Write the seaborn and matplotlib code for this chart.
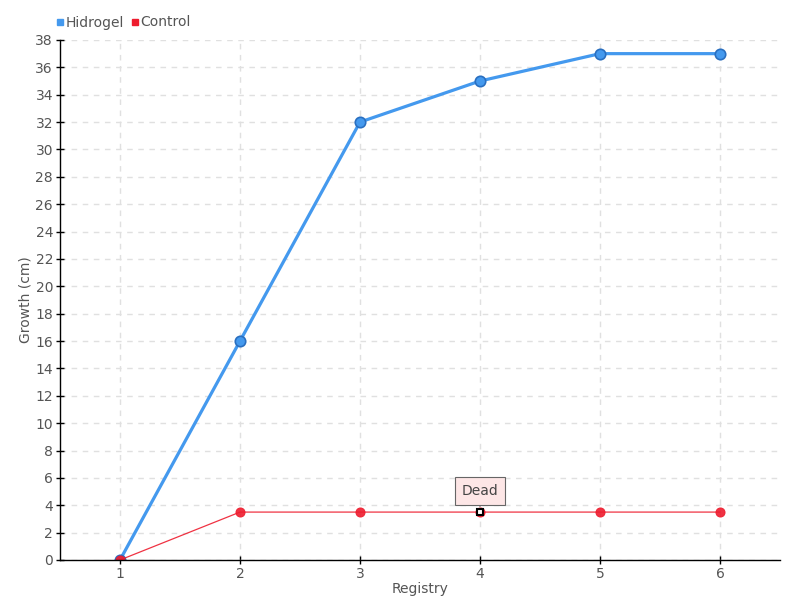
import matplotlib
matplotlib.use("Agg")
import matplotlib.pyplot as plt
import seaborn as sns
import pandas as pd
from matplotlib.lines import Line2D

registry = [1, 2, 3, 4, 5, 6]
hidrogel = [0, 16, 32, 35, 37, 37]
control = [0, 3.5, 3.5, 3.5, 3.5, 3.5]
y_ticks = list(range(0, 39, 2))

df = pd.DataFrame({
    "Registry": registry * 2,
    "Growth": hidrogel + control,
    "Series": ["Hidrogel"] * 6 + ["Control"] * 6,
})

sns.set_style("white")
plt.rcParams['font.family'] = ['DejaVu Sans']

fig = plt.figure(figsize=(8, 6), dpi=100)
ax = fig.add_axes([0.075, 0.0667, 0.9, 0.8667])

blue = "#4499ee"
red = "#ee1c2e"
txt = "#555555"

sns.lineplot(data=df[df.Series == "Hidrogel"], x="Registry", y="Growth", ax=ax,
             color=blue, linewidth=2.3, marker="o", markersize=7.5,
             markeredgecolor="#2a6fc0", markeredgewidth=1.2, legend=False)
sns.lineplot(data=df[df.Series == "Control"], x="Registry", y="Growth", ax=ax,
             color=red, linewidth=0.9, marker="o", markersize=6.5,
             markeredgecolor=red, legend=False, alpha=0.9)

# special marker at registry 4
ax.plot([registry[3]], [control[3]], marker="s", markersize=5,
        markerfacecolor="white", markeredgecolor="black", markeredgewidth=1.5, zorder=5)

ax.annotate("Dead", xy=(registry[3], control[3]), xytext=(0, 15.5),
            textcoords="offset points", ha="center", va="center",
            fontsize=10, color="#444444",
            bbox=dict(boxstyle="square,pad=0.5", fc="#fde6e6", ec="#666666", lw=0.8),
            arrowprops=dict(arrowstyle="-", color="#666666", lw=0.8, shrinkA=0, shrinkB=4))

ax.set_xlim(0.5, 6.5)
ax.set_ylim(0, 38)
ax.set_xticks(registry)
ax.set_yticks(y_ticks)
ax.grid(True, color="#e0e0e0", linestyle=(0, (4, 4)), linewidth=1)
for s in ["top", "right"]:
    ax.spines[s].set_visible(False)
for s in ["left", "bottom"]:
    ax.spines[s].set_color("black")
    ax.spines[s].set_linewidth(1)
ax.tick_params(axis="both", direction="inout", length=6, width=1, colors="black",
               labelcolor=txt, labelsize=10, left=True, bottom=True, pad=2)
ax.set_xlabel("Registry", fontsize=10, color=txt, labelpad=1)
ax.set_ylabel("Growth (cm)", fontsize=10, color=txt, labelpad=2)

handles = [Line2D([], [], marker="s", linestyle="none", markersize=5, color=blue),
           Line2D([], [], marker="s", linestyle="none", markersize=5, color=red)]
fig.legend(handles, ["Hidrogel", "Control"], loc="upper left", bbox_to_anchor=(0.052, 0.995),
           ncol=2, frameon=False, fontsize=10, handletextpad=0.0, columnspacing=0.4,
           handlelength=0.8, labelcolor=txt)

fig.savefig("out.png", dpi=100)
